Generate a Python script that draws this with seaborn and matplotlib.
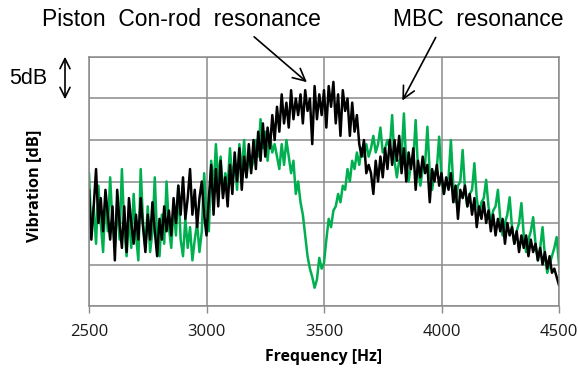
import numpy as np
import pandas as pd
import seaborn as sns
import matplotlib.pyplot as plt

freq_start = 2500
freq_step = 10

black_db = [
    14, 8, 12, 16.5, 10, 13, 9, 14, 11, 8,
    12, 5.5, 14, 10, 7, 12, 6.5, 13, 10, 7.5,
    11, 8, 13, 9.5, 6.5, 11, 8, 12.5, 9, 6,
    10.5, 8, 12, 9, 11.5, 8.5, 13, 10, 14.5, 11,
    15.5, 10.5, 13, 16.5, 11, 14, 9.5, 13, 15, 11,
    8.5, 13, 17, 11, 16.5, 12, 17.5, 13, 15.5, 12,
    17, 13.5, 18.5, 15, 19, 14, 18, 15.5, 19.5, 16,
    20, 16.5, 21, 17.5, 22, 18, 21.5, 19, 23, 20,
    24, 21, 25.5, 22, 24.5, 21.5, 26, 22.5, 25, 23,
    25.5, 22, 26, 23.5, 25, 19.5, 26.5, 22.5, 25.5, 23,
    26, 21.5, 26.5, 24, 27, 22, 25.5, 20.5, 26, 23.5,
    25, 20.5, 24.5, 21, 23, 19.5, 18, 20, 16, 17,
    16, 13.5, 17.5, 15, 18, 15.5, 19, 16.5, 20, 17,
    20, 17.5, 20.5, 16, 19, 15, 18.5, 16.5, 19, 14,
    17.5, 15.5, 18, 16, 17, 12.5, 16.5, 15, 17, 14.5,
    16, 13.5, 15.5, 14, 16, 12.5, 14.5, 10.5, 14, 13,
    14.5, 12, 13.5, 11, 13, 9.5, 12, 10.5, 12.5, 10,
    11.5, 9, 11, 8.5, 10.5, 9, 10.5, 7.5, 10, 8.5,
    9.5, 7.5, 9, 6.5, 8.5, 7, 8.5, 6, 8, 6.5,
    7.5, 5.5, 7, 5, 6.5, 4.5, 6, 4, 4.5, 3.5,
    2.5,
]

green_db = [
    16, 9, 12, 7.5, 14.5, 10, 6.5, 13, 9, 15.5,
    10, 7, 12.5, 8, 16.5, 9.5, 6, 11, 7, 13.5,
    8.5, 5.5, 16.5, 10, 7, 12, 6.5, 9, 15.5, 8,
    6, 11, 7.5, 15, 9.5, 7, 12, 8.5, 14.5, 8,
    6, 10.5, 7, 9.5, 5.5, 8, 10, 6.5, 9, 16,
    11, 9, 17.5, 14, 19.5, 15, 18, 13.5, 16, 14.5,
    19, 15, 17.5, 14, 19.5, 16, 20, 15.5, 18, 16.5,
    17.5, 20, 18, 22.5, 19, 21, 17.5, 20.5, 18.5, 19.5,
    18, 16.5, 19.5, 17, 20, 18, 16, 17.5, 13.5, 15,
    12.5, 11, 8.5, 6, 4.5, 3.5, 2.2, 3.2, 5.8, 4.5,
    5.2, 8, 10.5, 9.5, 11.5, 12, 13.5, 12.5, 14.5, 14,
    16.5, 15, 17.5, 16.5, 18.5, 17, 19, 18, 19.5, 18,
    19, 20.5, 18.5, 19.5, 21.5, 18.5, 19, 20, 19, 23,
    17.5, 15.5, 17.5, 18, 23.2, 17, 15, 17, 17.5, 22.4,
    16.5, 14.5, 16.5, 17, 21.6, 16, 14, 16, 16.5, 20.4,
    15.5, 13.5, 15, 15.5, 20, 14.5, 12.5, 14.5, 15, 18.8,
    14, 12, 13.5, 14, 17.2, 13, 11, 12.5, 13, 15.2,
    12, 10, 11.5, 12, 14, 10.5, 8.5, 10, 11, 13.1,
    9.5, 7.5, 9, 10, 12.4, 8.5, 6.5, 8, 9, 10.7,
    7.5, 5.5, 7, 9.5, 6, 4, 5, 6, 7, 8.3,
    5,
]

x_ticks = [2500, 3000, 3500, 4000, 4500]

freq = freq_start + freq_step * np.arange(len(black_db))
df = pd.concat([
    pd.DataFrame({"Frequency": freq, "Vibration": green_db, "series": "green"}),
    pd.DataFrame({"Frequency": freq, "Vibration": black_db, "series": "black"}),
])

sns.set_theme(style="white")
plt.rcParams["font.family"] = ["Open Sans", "DejaVu Sans"]
plt.rcParams["text.color"] = "black"
plt.rcParams["axes.labelcolor"] = "black"
plt.rcParams["xtick.labelcolor"] = "#1a1a1a"

grid_col = "#8a8a8a"

fig = plt.figure(figsize=(5.78, 3.69), dpi=100)
ax = fig.add_axes([89 / 578, 1 - 306 / 369, 470 / 578, 249 / 369])

sns.lineplot(data=df, x="Frequency", y="Vibration", hue="series",
             palette={"green": "#00b050", "black": "black"},
             linewidth=1.8, legend=False, ax=ax)

ax.set_xlim(2500, 4500)
ax.set_ylim(0, 30)
ax.set_xticks(x_ticks)
ax.set_yticks(np.arange(0, 31, 5))
ax.set_yticklabels([])
ax.grid(True, color=grid_col, linewidth=1.1)
ax.set_axisbelow(True)
for s in ax.spines.values():
    s.set_color(grid_col)
    s.set_linewidth(1.1)
ax.tick_params(axis="x", direction="out", length=5, width=1, color=grid_col,
               labelsize=12, pad=8, bottom=True)
ax.tick_params(axis="y", length=0)

ax.set_xlabel("Frequency [Hz]", fontsize=11.4, fontweight="bold")
ax.set_ylabel("Vibration [dB]", fontsize=11.8, fontweight="bold")
ax.xaxis.set_label_coords(0.5, -0.172)
ax.yaxis.set_label_coords(-0.1, 0.482)

# annotations above the plot
fig.text(181 / 578, 1 - 19 / 369, "Piston  Con-rod  resonance", ha="center", va="center",
         fontsize=16.5, family="Liberation Sans", color="black")
fig.text(478 / 578, 1 - 19 / 369, "MBC  resonance", ha="center", va="center",
         fontsize=16.5, family="Liberation Sans", color="black")
fig.text(28 / 578, 1 - 78 / 369, "5dB", ha="center", va="center",
         fontsize=15.5, family="Liberation Sans", color="black")

arrow = dict(arrowstyle="->", color="black", lw=1.2, mutation_scale=22)
ax.annotate("", xy=(309 / 578, 1 - 84 / 369), xytext=(252 / 578, 1 - 35 / 369),
            xycoords="figure fraction", textcoords="figure fraction", arrowprops=arrow)
ax.annotate("", xy=(401 / 578, 1 - 103 / 369), xytext=(437 / 578, 1 - 35 / 369),
            xycoords="figure fraction", textcoords="figure fraction", arrowprops=arrow)
ax.annotate("", xy=(65 / 578, 1 - 102 / 369), xytext=(65 / 578, 1 - 54 / 369),
            xycoords="figure fraction", textcoords="figure fraction",
            arrowprops=dict(arrowstyle="<->", color="black", lw=1.2, mutation_scale=18))

fig.savefig("out.png", dpi=100)
